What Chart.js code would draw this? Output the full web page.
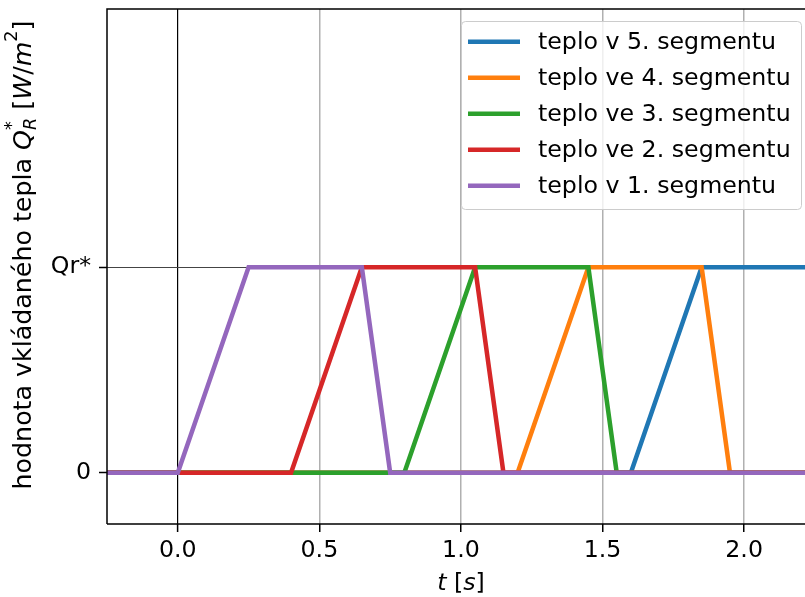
<!DOCTYPE html>
<html>
<head>
<meta charset="utf-8">
<script src="https://cdn.jsdelivr.net/npm/chart.js@4"></script>
<style>
html, body { margin: 0; padding: 0; background: #fff; }
#wrap { width: 805px; height: 597px; }
</style>
</head>
<body>
<div id="wrap"><canvas id="heatChart" width="805" height="597"></canvas></div>
<script>
// casove body zlomu a hodnoty pro jednotlive segmenty
var t_seg1 = [-0.25, 0, 0.25, 0.65, 0.75, 2.25];
var q_seg1 = [0, 0, 1, 1, 0, 0];
var t_seg2 = [-0.25, 0.4, 0.65, 1.05, 1.15, 2.25];
var q_seg2 = [0, 0, 1, 1, 0, 0];
var t_seg3 = [-0.25, 0.8, 1.05, 1.45, 1.55, 2.25];
var q_seg3 = [0, 0, 1, 1, 0, 0];
var t_seg4 = [-0.25, 1.2, 1.45, 1.85, 1.95, 2.25];
var q_seg4 = [0, 0, 1, 1, 0, 0];
var t_seg5 = [-0.25, 1.6, 1.85, 2.25];
var q_seg5 = [0, 0, 1, 1];

var x_ticks = [0, 0.5, 1.0, 1.5, 2.0];
var y_ticks = [0, 1];
var y_tick_labels = {0: "0", 1: "Qr*"};

var labels = ["teplo v 5. segmentu", "teplo ve 4. segmentu", "teplo ve 3. segmentu", "teplo ve 2. segmentu", "teplo v 1. segmentu"];
var colors = ["#1f77b4", "#ff7f0e", "#2ca02c", "#d62728", "#9467bd"];

function pts(t, q) {
    return t.map(function (v, i) { return {x: v, y: q[i]}; });
}

var seriesData = [pts(t_seg5, q_seg5), pts(t_seg4, q_seg4), pts(t_seg3, q_seg3), pts(t_seg2, q_seg2), pts(t_seg1, q_seg1)];

var datasets = seriesData.map(function (d, i) {
    return {
        label: labels[i],
        data: d,
        borderColor: colors[i],
        borderWidth: 4.5,
        pointRadius: 0,
        fill: false,
        tension: 0,
        order: 5 - i   // purple on top like matplotlib
    };
});

var FONT = "DejaVu Sans";
var FS = 23.7;

// frame, legend and axis titles with math formatting
var extras = {
    id: "extras",
    afterDraw: function (chart) {
        var ctx = chart.ctx;
        var a = chart.chartArea;
        ctx.save();
        // spines
        ctx.strokeStyle = "#000";
        ctx.lineWidth = 1.5;
        ctx.beginPath();
        ctx.moveTo(a.left, a.bottom);
        ctx.lineTo(a.left, a.top);
        ctx.lineTo(a.right + 2, a.top);
        ctx.moveTo(a.left, a.bottom);
        ctx.lineTo(a.right + 2, a.bottom);
        ctx.stroke();

        // legend
        var lx = 461, ly = 21, lw = 340, lh = 188;
        ctx.fillStyle = "rgba(255,255,255,0.8)";
        ctx.strokeStyle = "#cccccc";
        ctx.lineWidth = 1;
        ctx.beginPath();
        ctx.roundRect(lx + 0.5, ly + 0.5, lw, lh, 4);
        ctx.fill();
        ctx.stroke();
        ctx.font = FS + "px '" + FONT + "'";
        ctx.textBaseline = "middle";
        chart.data.datasets.forEach(function (ds, i) {
            var yy = 41.7 + i * 36;
            ctx.strokeStyle = ds.borderColor;
            ctx.lineWidth = 4.5;
            ctx.beginPath();
            ctx.moveTo(468, yy);
            ctx.lineTo(520, yy);
            ctx.stroke();
            ctx.fillStyle = "#000";
            ctx.fillText(ds.label, 538, yy + 1);
        });

        // x title: t [s]
        var runsX = [["t", true, 0], [" [", false, 0], ["s", true, 0], ["]", false, 0]];
        drawRuns(ctx, runsX, 461, 584, FS);

        // y title
        ctx.translate(24, 255);
        ctx.rotate(-Math.PI / 2);
        var runsY = [["hodnota vkládaného tepla ", false, 0], ["Q", true, 0], ["*", false, -1], ["R", true, 1],
                     [" [", false, 0], ["W", true, 0], ["/", false, 0], ["m", true, 0], ["2", false, -1], ["]", false, 0]];
        drawRuns(ctx, runsY, 0, 0, 25.3);
        ctx.restore();
    }
};

// pos: 0 normal, -1 superscript, 1 subscript
function drawRuns(ctx, runs, cx, cy, fs) {
    function fontFor(r) {
        var size = r[2] === 0 ? fs : fs * 0.7;
        return (r[1] ? "oblique " : "") + size + "px '" + FONT + "'";
    }
    var total = 0;
    var widths = runs.map(function (r) {
        ctx.font = fontFor(r);
        var w = ctx.measureText(r[0]).width;
        if (r[0] === "*") { w = 0; }
        total += w;
        return w;
    });
    var x = cx - total / 2;
    ctx.textBaseline = "middle";
    ctx.textAlign = "left";
    ctx.fillStyle = "#000";
    runs.forEach(function (r, i) {
        ctx.font = fontFor(r);
        var dy = r[2] === -1 ? -fs * 0.45 : (r[2] === 1 ? fs * 0.3 : 0);
        ctx.fillText(r[0], x, cy + dy);
        x += widths[i];
    });
}

var heatCanvas = document.getElementById("heatChart");

var heatChart = new Chart(heatCanvas, {
    type: "line",
    data: { datasets: datasets },
    options: {
        responsive: false,
        animation: false,
        layout: { padding: { top: 9, left: 0, right: 0, bottom: 0 } },
        plugins: {
            legend: { display: false },
            tooltip: { enabled: false }
        },
        scales: {
            x: {
                type: "linear",
                min: -0.25,
                max: 2.215,
                afterBuildTicks: function (s) { s.ticks = x_ticks.map(function (v) { return {value: v}; }); },
                afterFit: function (s) { s.height = 73; s.paddingLeft = 0; s.paddingRight = 0; },
                ticks: {
                    font: { family: FONT, size: FS },
                    color: "#000",
                    padding: 5,
                    maxRotation: 0,
                    callback: function (v) { return v.toFixed(1); }
                },
                grid: {
                    color: function (c) { return c.tick && c.tick.value === 0 ? "#000" : "#b0b0b0"; },
                    lineWidth: function (c) { return c.tick && c.tick.value === 0 ? 1.2 : 1.5; },
                    tickColor: "#000",
                    tickLength: 8,
                    tickWidth: 1.5
                },
                border: { display: false }
            },
            y: {
                type: "linear",
                min: -0.25,
                max: 2.258,
                afterBuildTicks: function (s) { s.ticks = y_ticks.map(function (v) { return {value: v}; }); },
                afterFit: function (s) { s.width = 107; s.paddingTop = 0; s.paddingBottom = 0; },
                ticks: {
                    font: { family: FONT, size: FS },
                    color: "#000",
                    padding: 8,
                    callback: function (v) { return y_tick_labels[v]; }
                },
                grid: {
                    color: function (c) { return c.tick && c.tick.value === 1 ? "#444" : "rgba(0,0,0,0)"; },
                    lineWidth: 1,
                    tickColor: "#000",
                    tickLength: 8,
                    tickWidth: 1.5
                },
                border: { display: false }
            }
        }
    },
    plugins: [extras]
});
</script>
</body>
</html>
